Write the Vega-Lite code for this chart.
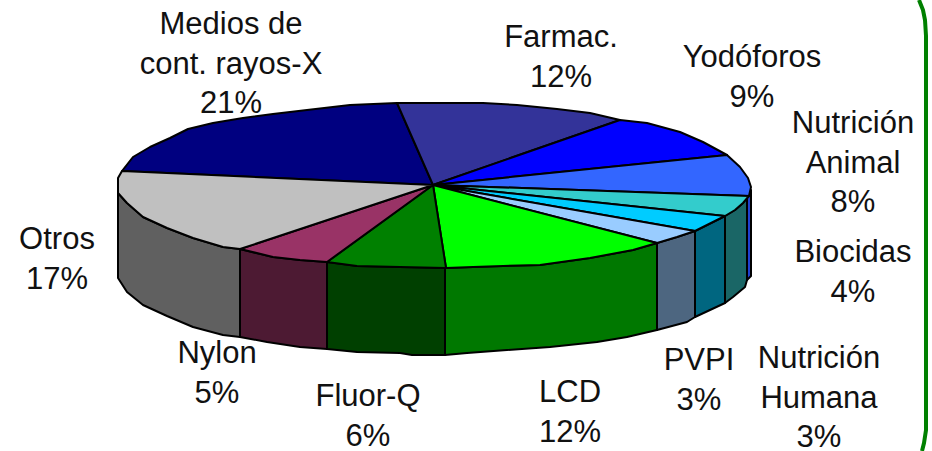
{"$schema":"https://vega.github.io/schema/vega-lite/v6.json","width":932,"height":451,"autosize":{"type":"none"},"padding":0,"background":"white","view":{"stroke":null},
"datasets":{"faces":[
{"part":"Otros lado","seq":0,"x":118,"y":187},{"part":"Otros lado","seq":1,"x":118,"y":278},{"part":"Otros lado","seq":2,"x":127,"y":292},{"part":"Otros lado","seq":3,"x":143,"y":305},{"part":"Otros lado","seq":4,"x":167,"y":316},{"part":"Otros lado","seq":5,"x":193,"y":327},{"part":"Otros lado","seq":6,"x":223,"y":335},{"part":"Otros lado","seq":7,"x":240,"y":337},{"part":"Otros lado","seq":8,"x":240,"y":249},{"part":"Otros lado","seq":9,"x":223,"y":247},{"part":"Otros lado","seq":10,"x":193,"y":238},{"part":"Otros lado","seq":11,"x":167,"y":228},{"part":"Otros lado","seq":12,"x":143,"y":217},{"part":"Otros lado","seq":13,"x":127,"y":203},{"part":"Otros lado","seq":14,"x":118,"y":193},{"part":"Otros lado","seq":15,"x":118,"y":187},
{"part":"Nylon lado","seq":0,"x":240,"y":249},{"part":"Nylon lado","seq":1,"x":240,"y":337},{"part":"Nylon lado","seq":2,"x":267,"y":342},{"part":"Nylon lado","seq":3,"x":300,"y":347},{"part":"Nylon lado","seq":4,"x":327,"y":349},{"part":"Nylon lado","seq":5,"x":327,"y":262},{"part":"Nylon lado","seq":6,"x":300,"y":260},{"part":"Nylon lado","seq":7,"x":273,"y":257},{"part":"Nylon lado","seq":8,"x":240,"y":249},
{"part":"Fluor lado","seq":0,"x":327,"y":262},{"part":"Fluor lado","seq":1,"x":327,"y":349},{"part":"Fluor lado","seq":2,"x":357,"y":352},{"part":"Fluor lado","seq":3,"x":400,"y":353},{"part":"Fluor lado","seq":4,"x":412,"y":355},{"part":"Fluor lado","seq":5,"x":445,"y":355},{"part":"Fluor lado","seq":6,"x":445,"y":268},{"part":"Fluor lado","seq":7,"x":400,"y":267},{"part":"Fluor lado","seq":8,"x":357,"y":266},{"part":"Fluor lado","seq":9,"x":327,"y":262},
{"part":"LCD lado","seq":0,"x":445,"y":268},{"part":"LCD lado","seq":1,"x":445,"y":355},{"part":"LCD lado","seq":2,"x":467,"y":353},{"part":"LCD lado","seq":3,"x":507,"y":350},{"part":"LCD lado","seq":4,"x":550,"y":347},{"part":"LCD lado","seq":5,"x":597,"y":342},{"part":"LCD lado","seq":6,"x":627,"y":337},{"part":"LCD lado","seq":7,"x":657,"y":330},{"part":"LCD lado","seq":8,"x":657,"y":243},{"part":"LCD lado","seq":9,"x":633,"y":250},{"part":"LCD lado","seq":10,"x":590,"y":258},{"part":"LCD lado","seq":11,"x":540,"y":265},{"part":"LCD lado","seq":12,"x":503,"y":266},{"part":"LCD lado","seq":13,"x":473,"y":267},{"part":"LCD lado","seq":14,"x":445,"y":268},
{"part":"PVPI lado","seq":0,"x":657,"y":243},{"part":"PVPI lado","seq":1,"x":657,"y":330},{"part":"PVPI lado","seq":2,"x":687,"y":322},{"part":"PVPI lado","seq":3,"x":695,"y":317},{"part":"PVPI lado","seq":4,"x":695,"y":231},{"part":"PVPI lado","seq":5,"x":677,"y":237},{"part":"PVPI lado","seq":6,"x":657,"y":243},
{"part":"Humana lado","seq":0,"x":695,"y":231},{"part":"Humana lado","seq":1,"x":695,"y":317},{"part":"Humana lado","seq":2,"x":725,"y":303},{"part":"Humana lado","seq":3,"x":725,"y":216},{"part":"Humana lado","seq":4,"x":695,"y":231},
{"part":"Biocidas lado","seq":0,"x":725,"y":216},{"part":"Biocidas lado","seq":1,"x":725,"y":303},{"part":"Biocidas lado","seq":2,"x":733,"y":297},{"part":"Biocidas lado","seq":3,"x":745,"y":287},{"part":"Biocidas lado","seq":4,"x":747,"y":280},{"part":"Biocidas lado","seq":5,"x":747,"y":197},{"part":"Biocidas lado","seq":6,"x":743,"y":203},{"part":"Biocidas lado","seq":7,"x":735,"y":210},{"part":"Biocidas lado","seq":8,"x":725,"y":216},
{"part":"Animal lado","seq":0,"x":747,"y":197},{"part":"Animal lado","seq":1,"x":747,"y":280},{"part":"Animal lado","seq":2,"x":751,"y":276},{"part":"Animal lado","seq":3,"x":751,"y":190},{"part":"Animal lado","seq":4,"x":747,"y":197},
{"part":"Medios","seq":0,"x":433,"y":185},{"part":"Medios","seq":1,"x":122,"y":171},{"part":"Medios","seq":2,"x":133,"y":157},{"part":"Medios","seq":3,"x":150,"y":147},{"part":"Medios","seq":4,"x":170,"y":138},{"part":"Medios","seq":5,"x":188,"y":129},{"part":"Medios","seq":6,"x":213,"y":123},{"part":"Medios","seq":7,"x":243,"y":118},{"part":"Medios","seq":8,"x":273,"y":114},{"part":"Medios","seq":9,"x":307,"y":110},{"part":"Medios","seq":10,"x":350,"y":105},{"part":"Medios","seq":11,"x":397,"y":103},{"part":"Medios","seq":12,"x":433,"y":185},
{"part":"Farmac","seq":0,"x":433,"y":185},{"part":"Farmac","seq":1,"x":397,"y":103},{"part":"Farmac","seq":2,"x":430,"y":103},{"part":"Farmac","seq":3,"x":483,"y":103},{"part":"Farmac","seq":4,"x":517,"y":105},{"part":"Farmac","seq":5,"x":557,"y":109},{"part":"Farmac","seq":6,"x":590,"y":113},{"part":"Farmac","seq":7,"x":620,"y":120},{"part":"Farmac","seq":8,"x":433,"y":185},
{"part":"Yodoforos","seq":0,"x":433,"y":185},{"part":"Yodoforos","seq":1,"x":620,"y":120},{"part":"Yodoforos","seq":2,"x":647,"y":123},{"part":"Yodoforos","seq":3,"x":680,"y":132},{"part":"Yodoforos","seq":4,"x":703,"y":142},{"part":"Yodoforos","seq":5,"x":727,"y":155},{"part":"Yodoforos","seq":6,"x":433,"y":185},
{"part":"Animal","seq":0,"x":433,"y":185},{"part":"Animal","seq":1,"x":727,"y":155},{"part":"Animal","seq":2,"x":740,"y":167},{"part":"Animal","seq":3,"x":748,"y":178},{"part":"Animal","seq":4,"x":751,"y":187},{"part":"Animal","seq":5,"x":749,"y":196},{"part":"Animal","seq":6,"x":433,"y":185},
{"part":"Biocidas","seq":0,"x":433,"y":185},{"part":"Biocidas","seq":1,"x":749,"y":196},{"part":"Biocidas","seq":2,"x":743,"y":203},{"part":"Biocidas","seq":3,"x":735,"y":210},{"part":"Biocidas","seq":4,"x":725,"y":216},{"part":"Biocidas","seq":5,"x":433,"y":185},
{"part":"Humana","seq":0,"x":433,"y":185},{"part":"Humana","seq":1,"x":725,"y":216},{"part":"Humana","seq":2,"x":695,"y":231},{"part":"Humana","seq":3,"x":433,"y":185},
{"part":"PVPI","seq":0,"x":433,"y":185},{"part":"PVPI","seq":1,"x":695,"y":231},{"part":"PVPI","seq":2,"x":677,"y":237},{"part":"PVPI","seq":3,"x":657,"y":243},{"part":"PVPI","seq":4,"x":433,"y":185},
{"part":"LCD","seq":0,"x":433,"y":185},{"part":"LCD","seq":1,"x":657,"y":243},{"part":"LCD","seq":2,"x":633,"y":250},{"part":"LCD","seq":3,"x":590,"y":258},{"part":"LCD","seq":4,"x":540,"y":265},{"part":"LCD","seq":5,"x":503,"y":266},{"part":"LCD","seq":6,"x":473,"y":267},{"part":"LCD","seq":7,"x":446,"y":268},{"part":"LCD","seq":8,"x":433,"y":185},
{"part":"Fluor","seq":0,"x":433,"y":185},{"part":"Fluor","seq":1,"x":446,"y":268},{"part":"Fluor","seq":2,"x":400,"y":267},{"part":"Fluor","seq":3,"x":357,"y":266},{"part":"Fluor","seq":4,"x":327,"y":262},{"part":"Fluor","seq":5,"x":433,"y":185},
{"part":"Nylon","seq":0,"x":433,"y":185},{"part":"Nylon","seq":1,"x":327,"y":262},{"part":"Nylon","seq":2,"x":300,"y":260},{"part":"Nylon","seq":3,"x":273,"y":257},{"part":"Nylon","seq":4,"x":240,"y":249},{"part":"Nylon","seq":5,"x":433,"y":185},
{"part":"Otros","seq":0,"x":433,"y":185},{"part":"Otros","seq":1,"x":240,"y":249},{"part":"Otros","seq":2,"x":223,"y":247},{"part":"Otros","seq":3,"x":193,"y":238},{"part":"Otros","seq":4,"x":167,"y":228},{"part":"Otros","seq":5,"x":143,"y":217},{"part":"Otros","seq":6,"x":127,"y":203},{"part":"Otros","seq":7,"x":118,"y":193},{"part":"Otros","seq":8,"x":118,"y":178},{"part":"Otros","seq":9,"x":122,"y":171},{"part":"Otros","seq":10,"x":433,"y":185}
],
"labels":[
{"name":"Medios de\ncont. rayos-X","share":21,"x":231,"y":25},
{"name":"Farmac.","share":12,"x":561,"y":38},
{"name":"Yodóforos","share":9,"x":752,"y":58},
{"name":"Nutrición\nAnimal","share":8,"x":853,"y":124},
{"name":"Biocidas","share":4,"x":853,"y":253},
{"name":"Nutrición\nHumana","share":3,"x":819,"y":359},
{"name":"PVPI","share":3,"x":699,"y":361},
{"name":"LCD","share":12,"x":570,"y":393},
{"name":"Fluor-Q","share":6,"x":368,"y":397},
{"name":"Nylon","share":5,"x":217,"y":354},
{"name":"Otros","share":17,"x":57,"y":240}
],
"frame":[{"seq":0,"x":919,"y":0},{"seq":1,"x":923,"y":10},{"seq":2,"x":925,"y":20},{"seq":3,"x":926,"y":36},{"seq":4,"x":926,"y":430},{"seq":5,"x":924,"y":443},{"seq":6,"x":922,"y":451}]},
"layer":[
{"data":{"name":"frame"},"mark":{"type":"line","stroke":"#008000","strokeWidth":4,"clip":true},"encoding":{"x":{"field":"x","type":"quantitative","scale":{"domain":[0,932]},"axis":null},"y":{"field":"y","type":"quantitative","scale":{"domain":[451,0]},"axis":null},"order":{"field":"seq"}}},
{"data":{"name":"faces"},"mark":{"type":"line","filled":true,"stroke":"black","strokeWidth":2,"strokeJoin":"round"},"encoding":{"x":{"field":"x","type":"quantitative","scale":{"domain":[0,932]},"axis":null},"y":{"field":"y","type":"quantitative","scale":{"domain":[451,0]},"axis":null},"order":{"field":"seq"},"fill":{"field":"part","type":"nominal","legend":null,"scale":{"domain":["Otros lado","Nylon lado","Fluor lado","LCD lado","PVPI lado","Humana lado","Biocidas lado","Animal lado","Medios","Farmac","Yodoforos","Animal","Biocidas","Humana","PVPI","LCD","Fluor","Nylon","Otros"],"range":["#606060","#4d1a33","#004000","#007800","#4d6680","#006680","#1a6666","#2040d0","#000080","#333399","#0000ff","#3366ff","#33cccc","#00ccff","#99ccff","#00ff00","#008000","#993366","#c0c0c0"]}}}},
{"data":{"name":"labels"},"transform":[{"calculate":"datum.name + '\\n' + datum.share + '%'","as":"label"}],"mark":{"type":"text","font":"Liberation Sans","fontSize":31,"lineBreak":"\n","lineHeight":39.5,"align":"center","baseline":"middle","color":"#111"},"encoding":{"x":{"field":"x","type":"quantitative","scale":{"domain":[0,932]},"axis":null},"y":{"field":"y","type":"quantitative","scale":{"domain":[451,0]},"axis":null},"text":{"field":"label"}}}
]}
